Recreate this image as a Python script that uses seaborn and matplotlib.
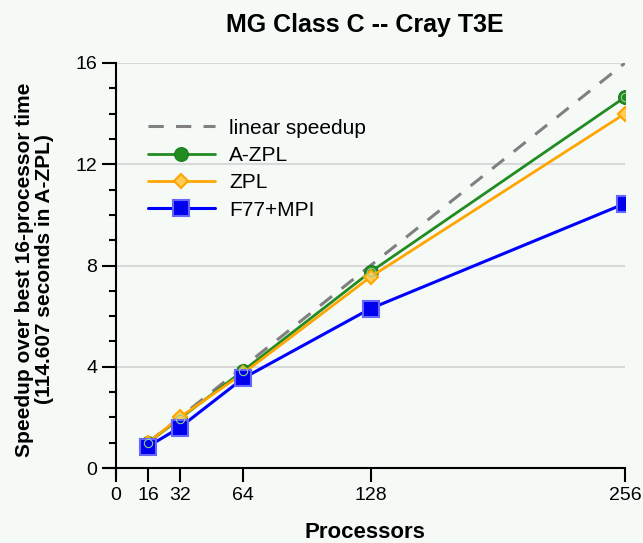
import pandas as pd
import matplotlib.pyplot as plt
import seaborn as sns

# processor counts and speedups
procs = [16, 32, 64, 128, 256]
linear = [1, 2, 4, 8, 16]
azpl = [1.0, 1.95, 3.85, 7.75, 14.65]
zpl = [1.0, 2.0, 3.75, 7.55, 14.0]
f77mpi = [0.85, 1.6, 3.55, 6.3, 10.45]

xticks = [0, 16, 32, 64, 128, 256]
yticks = [0, 4, 8, 12, 16]

bg = '#f5faf7'
sns.set_style('ticks', {'axes.facecolor': bg, 'figure.facecolor': bg,
                        'text.color': 'black', 'axes.labelcolor': 'black',
                        'xtick.color': 'black', 'ytick.color': 'black',
                        'axes.edgecolor': 'black'})
plt.rcParams['font.family'] = ['Liberation Sans', 'DejaVu Sans']

fig = plt.figure(figsize=(6.43, 5.43), dpi=100)
ax = fig.add_axes([0.162, 0.124, 0.81, 0.76])

df = pd.DataFrame({'procs': procs, 'linear': linear, 'azpl': azpl,
                   'zpl': zpl, 'f77': f77mpi})

sns.lineplot(data=df, x='procs', y='linear', ax=ax, color='#808080',
             linestyle=(0, (5, 4)), linewidth=2.2, label='linear speedup')
sns.lineplot(data=df, x='procs', y='azpl', ax=ax, color='#228b22', linewidth=2,
             marker='o', markersize=10, markerfacecolor='#228b22',
             markeredgecolor='#1a7a1a', label='A-ZPL')
sns.lineplot(data=df, x='procs', y='zpl', ax=ax, color='#ffa500', linewidth=2,
             marker='D', markersize=7.5, markerfacecolor='#ffcc55',
             markeredgecolor='#ffa500', markeredgewidth=1.5, label='ZPL')
sns.lineplot(data=df, x='procs', y='f77', ax=ax, color='#0000ff', linewidth=2.2,
             marker='s', markersize=11, markerfacecolor='#0000ee',
             markeredgecolor='#6666ff', markeredgewidth=1.5, label='F77+MPI')
# inner ring on the A-ZPL circles
ax.plot(procs, azpl, linestyle='none', marker='o', markersize=6,
        markerfacecolor='none', markeredgecolor='#8fd08f', markeredgewidth=0.8)

ax.set_xlim(-6, 256)
ax.set_ylim(-0.3, 16)
ax.set_xticks(xticks)
ax.set_yticks(yticks)
ax.set_yticks(range(0, 17), minor=True)
ax.tick_params(axis='both', labelsize=14, width=1.5, length=10, direction='out')
ax.tick_params(axis='y', which='minor', width=1.5, length=5)
for y in yticks[1:]:
    ax.axhline(y, xmin=6 / 262, color='#d9d9d9', linewidth=1.5, zorder=0)

ax.spines['left'].set_position(('data', 0))
ax.spines['bottom'].set_position(('data', 0))
ax.spines['right'].set_visible(False)
ax.spines['top'].set_visible(False)
ax.spines['left'].set_linewidth(1.5)
ax.spines['bottom'].set_linewidth(1.5)
ax.spines['left'].set_bounds(-0.3, 16)

ax.set_title('MG Class C -- Cray T3E', fontsize=18, fontweight='bold', pad=22)
ax.set_xlabel('Processors', fontsize=16, fontweight='bold', labelpad=13)
ax.set_ylabel('Speedup over best 16-processor time\n(114.607 seconds in A-ZPL)',
              fontsize=15, fontweight='bold', linespacing=1.05)
ax.yaxis.set_label_coords(-0.097, 0.5)

ax.legend(loc='upper left', bbox_to_anchor=(0.068, 0.885), frameon=False,
          fontsize=15, handlelength=3.2, handletextpad=0.7, labelspacing=0.4,
          borderaxespad=0)

fig.savefig('out.png', dpi=100, facecolor=bg)
